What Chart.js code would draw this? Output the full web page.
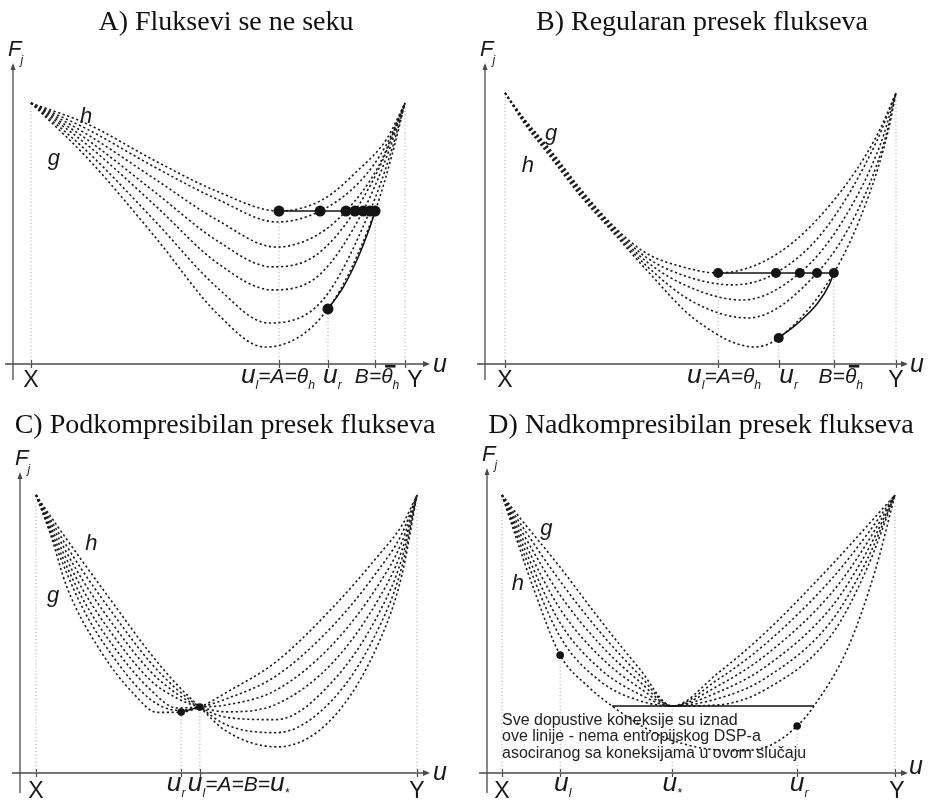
<!DOCTYPE html>
<html><head><meta charset="utf-8">
<script src="https://cdn.jsdelivr.net/npm/chart.js@4.4.1/dist/chart.umd.min.js"></script>
<style>
html,body{margin:0;padding:0;background:#fff;}
#wrap{position:relative;width:930px;height:803px;overflow:hidden;}
canvas{position:absolute;}
</style></head><body>
<div id="wrap">
<canvas id="cA" width="465" height="400" style="left:0;top:0"></canvas>
<canvas id="cB" width="465" height="400" style="left:465px;top:0"></canvas>
<canvas id="cC" width="465" height="403" style="left:0;top:400px"></canvas>
<canvas id="cD" width="465" height="403" style="left:465px;top:400px"></canvas>
</div>
<script>
// ---------------- DATA (u on 0..10 from X to Y, F on 0..10 from axis to curve ends) -------------
// Panel A
const A_curve_h = [[0,10],[1.5,9.2],[3.3,7.8],[5.0,6.6],[6.63,5.86],[7.8,6.3],[8.8,7.5],[9.5,8.6],[10,10]];
const A_curve_2 = [[0,10],[1.5,9.0],[3.3,7.55],[5.0,6.3],[6.58,5.44],[7.73,5.86],[8.8,7.0],[9.5,8.4],[10,10]];
const A_curve_3 = [[0,10],[1.5,8.8],[3.3,7.1],[5.0,5.5],[6.55,4.48],[7.6,4.9],[8.42,5.86],[9.3,7.6],[10,10]];
const A_curve_4 = [[0,10],[1.5,8.6],[3.3,6.6],[5.0,4.7],[6.45,3.72],[7.6,4.15],[8.66,5.86],[9.4,7.8],[10,10]];
const A_curve_5 = [[0,10],[1.5,8.4],[3.3,6.1],[5.0,3.85],[6.45,2.84],[7.7,3.4],[8.88,5.86],[9.5,7.9],[10,10]];
const A_curve_6 = [[0,10],[1.5,8.15],[3.3,5.5],[5.0,2.9],[6.35,1.57],[7.8,2.45],[9.06,5.86],[9.6,8.0],[10,10]];
const A_curve_g = [[0,10],[1.5,7.9],[3.3,4.9],[5.0,1.9],[6.25,0.65],[7.94,2.11],[9.2,5.86],[9.65,8.0],[10,10]];
const A_level = 5.86;
const A_levelDots = [6.63,7.73,8.42,8.66,8.88,9.06,9.2];
const A_extraDot = [7.94,2.11];
const A_connect = [[7.94,2.11],[8.35,2.95],[8.75,4.1],[9.05,5.2],[9.2,5.86]];
const A_ticks = [0,6.63,7.94,9.2,10];
const A_tickLabels = ['X','u_l=A=θ_h','u_r','B=¯θ_h','Y'];
const A_guideTops = [10,5.86,2.11,5.86,10];
const A_curveLabels = [['h',1.31,9.23],['g',0.45,7.62]];

// Panel B
const B_curve_1 = [[0,10],[0.5,9.03],[1.1,8.01],[1.96,6.41],[2.81,5.04],[3.6,4.1],[4.5,3.6],[5.45,3.36],[7.0,4.1],[8.5,6.2],[9.5,8.4],[10,10]];
const B_curve_2 = [[0,10],[0.5,8.99],[1.1,7.95],[1.96,6.35],[2.81,4.98],[3.6,3.95],[4.6,3.25],[5.81,2.92],[6.93,3.36],[8.2,5.0],[9.5,8.2],[10,10]];
const B_curve_3 = [[0,10],[0.5,8.95],[1.1,7.88],[1.96,6.28],[2.81,4.91],[3.6,3.8],[4.7,2.85],[6.06,2.36],[7.54,3.36],[8.6,5.2],[9.6,8.1],[10,10]];
const B_curve_4 = [[0,10],[0.5,8.91],[1.1,7.82],[1.96,6.22],[2.81,4.85],[3.6,3.65],[4.8,2.3],[6.21,1.7],[7.98,3.36],[9.0,5.6],[9.7,8.2],[10,10]];
const B_curve_5 = [[0,10],[0.5,8.87],[1.1,7.75],[1.96,6.15],[2.81,4.78],[3.6,3.5],[4.9,1.6],[6.39,0.63],[7.0,0.96],[8.41,3.36],[9.3,6.2],[9.8,8.6],[10,10]];
const B_level = 3.36;
const B_levelDots = [5.45,6.93,7.54,7.98,8.41];
const B_extraDot = [7.0,0.96];
const B_connect = [[7.0,0.96],[7.49,1.51],[8.0,2.25],[8.3,2.95],[8.41,3.36]];
const B_ticks = [0,5.45,7.0,8.41,10];
const B_tickLabels = ['X','u_l=A=θ_h','u_r','B=¯θ_h','Y'];
const B_guideTops = [10,3.36,0.96,3.36,10];
const B_curveLabels = [['g',1.02,8.27],['h',0.43,7.08]];

// Panel C
const C_curve_g = [[0,10],[0.37,8.63],[0.81,6.69],[1.68,4.42],[2.55,2.87],[3.18,2.18],[3.81,2.19],[4.3,2.37],[5.0,2.9],[6.3,4.0],[7.8,5.97],[9.0,7.85],[9.6,8.9],[10,10]];
const C_curve_2 = [[0,10],[0.5,8.22],[1.2,6.0],[2.0,4.23],[3.0,2.65],[3.7,2.26],[4.3,2.37],[5.0,2.67],[6.3,3.49],[7.8,5.31],[9.0,7.33],[9.6,8.6],[10,10]];
const C_curve_3 = [[0,10],[0.5,8.37],[1.2,6.33],[2.0,4.62],[3.0,3.0],[3.7,2.34],[4.3,2.37],[5.0,2.45],[6.3,2.98],[7.8,4.65],[9.0,6.8],[9.6,8.3],[10,10]];
const C_curve_4 = [[0,10],[0.5,8.53],[1.2,6.66],[2.0,5.0],[3.0,3.34],[3.7,2.69],[4.3,2.37],[5.0,2.2],[6.3,2.47],[7.8,3.99],[9.0,6.28],[9.6,8.0],[10,10]];
const C_curve_5 = [[0,10],[0.5,8.69],[1.2,6.99],[2.0,5.38],[3.0,3.66],[3.7,2.85],[4.3,2.37],[5.0,2.0],[6.3,1.92],[7.8,3.32],[9.0,5.75],[9.6,7.7],[10,10]];
const C_curve_6 = [[0,10],[0.5,8.84],[1.2,7.32],[2.0,5.77],[3.0,3.98],[3.7,3.01],[4.3,2.37],[5.0,1.73],[6.3,1.45],[7.8,2.66],[9.0,5.23],[9.6,7.4],[10,10]];
const C_curve_h = [[0,10],[0.5,9.0],[1.2,7.65],[2.0,6.15],[3.0,4.3],[3.7,3.18],[4.3,2.37],[5.0,1.5],[6.33,0.94],[7.8,2.0],[9.0,4.7],[9.6,7.1],[10,10]];
const C_dots = [[3.81,2.19],[4.3,2.37]];
const C_connect = [[3.81,2.19],[4.3,2.37]];
const C_ticks = [0,3.81,4.3,10];
const C_tickLabels = ['X','u_r','u_l=A=B=u_*','Y'];
const C_guideTops = [10,2.19,2.37,10];
const C_curveLabels = [['h',1.29,8.02],['g',0.29,6.15]];

// Panel D
const D_curve_g = [[0,10],[0.5,9.1],[1.48,7.4],[2.5,5.5],[3.5,3.75],[4.33,2.41],[5.5,3.6],[6.7,5.05],[8.4,7.5],[9.3,8.9],[10,10]];
const D_curve_2 = [[0,10],[0.5,8.9],[1.48,6.9],[2.5,5.06],[3.5,3.52],[4.33,2.41],[5.5,3.37],[6.7,4.64],[8.4,7.0],[9.3,8.6],[10,10]];
const D_curve_3 = [[0,10],[0.5,8.7],[1.48,6.4],[2.5,4.62],[3.5,3.29],[4.33,2.41],[5.5,3.14],[6.7,4.23],[8.4,6.5],[9.3,8.3],[10,10]];
const D_curve_4 = [[0,10],[0.5,8.5],[1.48,5.9],[2.5,4.18],[3.5,3.06],[4.33,2.41],[5.5,2.91],[6.7,3.82],[8.4,6.0],[9.3,8.0],[10,10]];
const D_curve_5 = [[0,10],[0.5,8.3],[1.48,5.4],[2.5,3.74],[3.5,2.83],[4.33,2.41],[5.5,2.68],[6.7,3.41],[8.4,5.5],[9.3,7.7],[10,10]];
const D_curve_6 = [[0,10],[0.5,8.1],[1.48,4.9],[2.5,3.3],[3.5,2.6],[4.33,2.41],[5.5,2.45],[6.7,3.0],[8.4,5.0],[9.3,7.4],[10,10]];
const D_curve_h = [[0,10],[0.35,8.5],[0.8,6.65],[1.48,4.24],[2.2,3.1],[2.8,2.41],[3.8,1.5],[4.8,0.98],[5.9,0.8],[6.8,0.98],[7.51,1.69],[7.94,2.41],[8.8,4.5],[9.5,7.3],[10,10]];
const D_dots = [[1.48,4.24],[7.51,1.69]];
const D_line = [[2.8,2.41],[7.94,2.41]];
const D_ticks = [0,1.48,4.33,7.51,10];
const D_tickLabels = ['X','u_l','u_*','u_r','Y'];
const D_guideTops = [10,4.24,2.41,1.69,10];
const D_curveLabels = [['g',0.97,8.56],['h',0.25,6.58]];
const D_note = ['Sve dopustive koneksije su iznad','ove linije - nema entropijskog DSP-a','asociranog sa koneksijama u ovom slučaju'];

const TITLES = ['A) Fluksevi se ne seku','B) Regularan presek flukseva','C) Podkompresibilan presek flukseva','D) Nadkompresibilan presek flukseva'];

// ---------------- LAYOUT ----------------
const PANELS = {
  cA:{title:TITLES[0], titleX:226, titleY:30, pad:{left:13,right:35,top:63,bottom:20}, xr:[-0.481,10.668], yr:[-0.613,11.533],
      curves:[A_curve_h,A_curve_2,A_curve_3,A_curve_4,A_curve_5,A_curve_6,A_curve_g],
      solids:[[[A_levelDots[0],A_level],[A_levelDots[A_levelDots.length-1],A_level]],A_connect],
      dots:A_levelDots.map(v=>[v,A_level]).concat([A_extraDot]), dotR:5.5,
      ticks:A_ticks, tickLabels:A_tickLabels, guideTops:A_guideTops, curveLabels:A_curveLabels,
      labelDx:[0,-1,4.5,2,10], labelAlign:[], labBase:19, xyBase:23, uOff:[3,8]},
  cB:{title:TITLES[1], titleX:237, titleY:30, pad:{left:20,right:22,top:63,bottom:20}, xr:[-0.512,10.307], yr:[-0.59,11.107],
      curves:[B_curve_1,B_curve_2,B_curve_3,B_curve_4,B_curve_5],
      solids:[[[B_levelDots[0],B_level],[B_levelDots[B_levelDots.length-1],B_level]],B_connect],
      dots:B_levelDots.map(v=>[v,B_level]).concat([B_extraDot]), dotR:5,
      ticks:B_ticks, tickLabels:B_tickLabels, guideTops:B_guideTops, curveLabels:B_curveLabels,
      labelDx:[0,6,10,7,0], labelAlign:[], labBase:19, xyBase:23, uOff:[2,8]},
  cC:{title:TITLES[2], titleX:225, titleY:33, pad:{left:20,right:35,top:72,bottom:10}, xr:[-0.42,10.341], yr:[-0.719,10.827],
      curves:[C_curve_g,C_curve_2,C_curve_3,C_curve_4,C_curve_5,C_curve_6,C_curve_h],
      solids:[C_connect], dots:C_dots, dotR:3.8,
      ticks:C_ticks, tickLabels:C_tickLabels, guideTops:C_guideTops, curveLabels:C_curveLabels,
      labelDx:[0,-5,-12,0], labelAlign:['center','center','left','center'], labBase:18, xyBase:25, uOff:[3,7]},
  cD:{title:TITLES[3], titleX:236, titleY:33, pad:{left:22,right:22,top:68,bottom:10}, xr:[-0.382,10.331], yr:[-0.719,10.971],
      curves:[D_curve_g,D_curve_2,D_curve_3,D_curve_4,D_curve_5,D_curve_6,D_curve_h],
      solids:[D_line], dots:D_dots, dotR:3.8,
      ticks:D_ticks, tickLabels:D_tickLabels, guideTops:D_guideTops, curveLabels:D_curveLabels,
      labelDx:[0,2.5,0,2,2], labelAlign:[], labBase:18, xyBase:25, uOff:[1,1], note:D_note, noteAt:[0,1.73]}
};

const SANS = '"Liberation Sans", Arial, Helvetica, sans-serif';
function parseRich(s){
  const segs=[]; let i=0;
  while(i<s.length){
    let c=s[i], sub=false, bar=false;
    if(c==='_'){sub=true;i++;c=s[i];}
    else if(c==='¯'){bar=true;i++;c=s[i];}
    segs.push({c,sub,bar}); i++;
  }
  return segs;
}
function drawRich(ctx,s,x,y,size,align){
  const segs=parseRich(s);
  const fontFor=g=>{
    const upright=(g.c==='X'||g.c==='Y');
    let sz=g.sub?size*0.58:(g.c==='u'?size*1.25:(upright?size*1.1:size));
    return (upright?'':'italic ')+sz.toFixed(1)+'px '+SANS;
  };
  let w=0;
  segs.forEach(g=>{ctx.font=fontFor(g);g.w=ctx.measureText(g.c).width;w+=g.w;});
  let cx=align==='left'?x:x-w/2;
  ctx.textAlign='left'; ctx.textBaseline='alphabetic';
  segs.forEach(g=>{
    ctx.font=fontFor(g);
    const yy=g.sub?y+size*0.3:y;
    ctx.fillText(g.c,cx,yy);
    if(g.bar){ctx.fillRect(cx+4,y-size*0.86,g.w-1,2.6);}
    cx+=g.w;
  });
}

const deco={
  id:'deco',
  beforeDatasetsDraw(chart){
    const P=PANELS[chart.canvas.id];
    const {ctx,chartArea:ca,scales:{x,y}}=chart;
    const y0=y.getPixelForValue(0);
    ctx.save();
    ctx.strokeStyle='#4a4a4a'; ctx.fillStyle='#4a4a4a'; ctx.lineWidth=1.3;
    ctx.beginPath(); ctx.moveTo(ca.left-8,y0); ctx.lineTo(ca.right-3,y0); ctx.stroke();
    ctx.beginPath(); ctx.moveTo(ca.right,y0); ctx.lineTo(ca.right-7,y0-3); ctx.lineTo(ca.right-7,y0+3); ctx.closePath(); ctx.fill();
    ctx.beginPath(); ctx.moveTo(ca.left,ca.bottom); ctx.lineTo(ca.left,ca.top+3); ctx.stroke();
    ctx.beginPath(); ctx.moveTo(ca.left,ca.top); ctx.lineTo(ca.left-2.5,ca.top+7); ctx.lineTo(ca.left+2.5,ca.top+7); ctx.closePath(); ctx.fill();
    ctx.lineWidth=1.2;
    P.ticks.forEach(v=>{const px=Math.round(x.getPixelForValue(v))+0.5; ctx.beginPath(); ctx.moveTo(px,y0-4); ctx.lineTo(px,y0+4); ctx.stroke();});
    ctx.restore();
  },
  afterDraw(chart){
    const P=PANELS[chart.canvas.id];
    const {ctx,chartArea:ca,scales:{x,y}}=chart;
    const y0=y.getPixelForValue(0);
    ctx.save();
    ctx.fillStyle='#111';
    ctx.font='28px "Liberation Serif", "Times New Roman", serif';
    ctx.textAlign='center'; ctx.textBaseline='alphabetic';
    ctx.fillText(P.title,P.titleX,P.titleY);
    ctx.fillStyle='#1a1a1a';
    P.ticks.forEach((v,i)=>{
      const lab=P.tickLabels[i];
      const isXY=(lab==='X'||lab==='Y');
      const px=x.getPixelForValue(v)+(P.labelDx[i]||0);
      drawRich(ctx,lab,px,y0+(isXY?P.xyBase:P.labBase),21,P.labelAlign[i]||'center');
    });
    ctx.textAlign='left';
    ctx.font='italic 25px '+SANS;
    ctx.fillText('u',ca.right+P.uOff[0],y0+P.uOff[1]);
    ctx.font='italic 22px '+SANS;
    ctx.fillText('F',ca.left-5,ca.top-7);
    const fw=ctx.measureText('F').width;
    ctx.font='italic 12px '+SANS;
    ctx.fillText('j',ca.left-5+fw-1,ca.top+1);
    ctx.font='italic 22px '+SANS;
    P.curveLabels.forEach(c=>ctx.fillText(c[0],x.getPixelForValue(c[1]),y.getPixelForValue(c[2])));
    if(P.note){
      ctx.font='16px '+SANS; ctx.fillStyle='#222';
      const nx=x.getPixelForValue(P.noteAt[0]), ny=y.getPixelForValue(P.noteAt[1]);
      P.note.forEach((t,i)=>ctx.fillText(t,nx,ny+i*16.3));
    }
    ctx.restore();
  }
};

function pts(a){return a.map(p=>({x:p[0],y:p[1]}));}
function build(id){
  const P=PANELS[id];
  const ds=[];
  P.ticks.forEach((v,i)=>ds.push({data:pts([[v,0],[v,P.guideTops[i]]]),showLine:true,pointRadius:0,borderColor:'#a0a0a0',borderWidth:1,borderDash:[1,2.5],order:4,clip:false}));
  P.curves.forEach(c=>ds.push({data:pts(c),showLine:true,pointRadius:0,borderColor:'#1c1c1c',borderWidth:1.6,borderDash:[2.2,2.6],cubicInterpolationMode:'monotone',order:3,clip:false}));
  P.solids.forEach(c=>ds.push({data:pts(c),showLine:true,pointRadius:0,borderColor:'#111',borderWidth:1.5,cubicInterpolationMode:'monotone',order:2,clip:false}));
  ds.push({data:pts(P.dots),showLine:false,pointRadius:P.dotR,pointBackgroundColor:'#141414',pointBorderWidth:0,order:1,clip:false});
  new Chart(document.getElementById(id),{
    type:'scatter',
    data:{datasets:ds},
    options:{responsive:false,animation:false,devicePixelRatio:1,events:[],
      layout:{padding:P.pad},
      plugins:{legend:{display:false},tooltip:{enabled:false},title:{display:false}},
      scales:{x:{type:'linear',min:P.xr[0],max:P.xr[1],display:false},y:{type:'linear',min:P.yr[0],max:P.yr[1],display:false}}},
    plugins:[deco]
  });
}
['cA','cB','cC','cD'].forEach(build);
</script>
</body></html>
